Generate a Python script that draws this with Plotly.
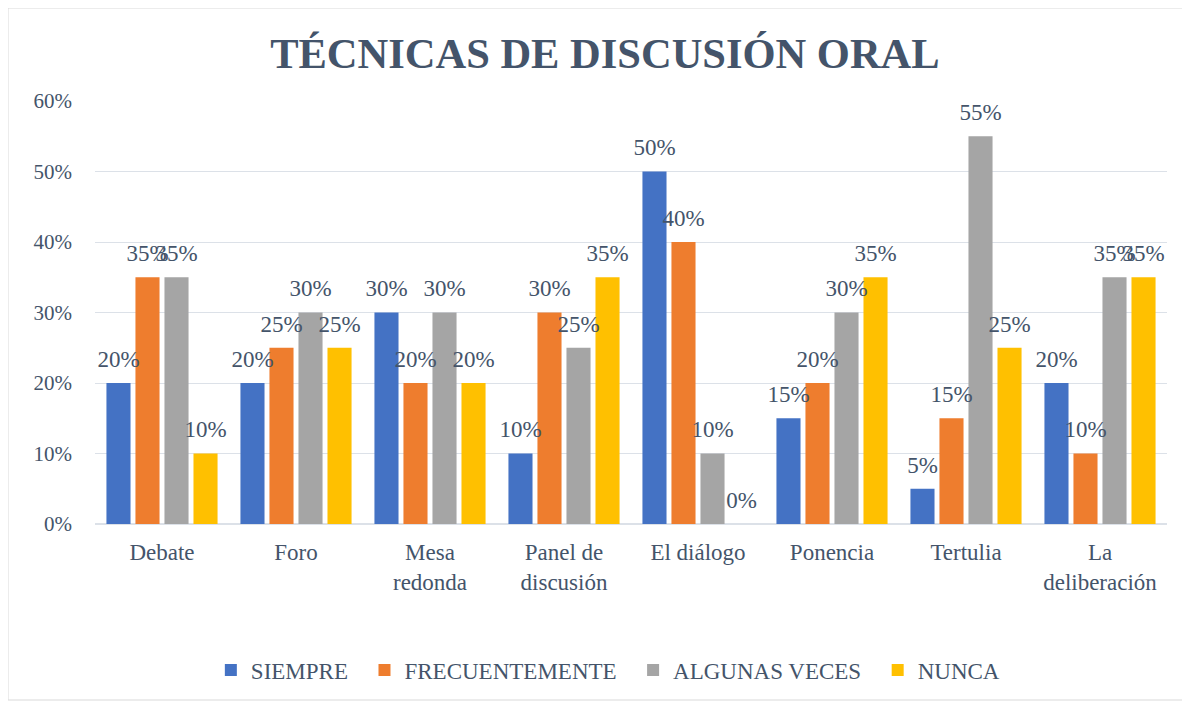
import plotly.graph_objects as go

categories = ["Debate", "Foro", "Mesa<br>redonda", "Panel de<br>discusión", "El diálogo",
              "Ponencia", "Tertulia", "La<br>deliberación"]
siempre = [0.20, 0.20, 0.30, 0.10, 0.50, 0.15, 0.05, 0.20]
frecuentemente = [0.35, 0.25, 0.20, 0.30, 0.40, 0.20, 0.15, 0.10]
algunas_veces = [0.35, 0.30, 0.30, 0.25, 0.10, 0.30, 0.55, 0.35]
nunca = [0.10, 0.25, 0.20, 0.35, 0.00, 0.35, 0.25, 0.35]
series_names = ["SIEMPRE", "FRECUENTEMENTE", "ALGUNAS VECES", "NUNCA"]
colors = ["#4472C4", "#EE7D2E", "#A5A5A5", "#FFC000"]

TXT = "#44546A"
FONT = "Liberation Serif, Times New Roman, serif"
NB = "\u00a0"

fig = go.Figure()
all_vals = [siempre, frecuentemente, algunas_veces, nunca]
for i, (name, vals, col) in enumerate(zip(series_names, all_vals, colors)):
    fig.add_trace(go.Bar(
        x=categories, y=vals, name=name + NB * 2,
        marker=dict(color=col, line=dict(width=0)),
        offsetgroup=str(i), alignmentgroup="a",
    ))
for i, vals in enumerate(all_vals):
    fig.add_trace(go.Scatter(
        x=categories, y=vals, mode="markers+text",
        marker=dict(size=15, opacity=0), showlegend=False, hoverinfo="skip",
        text=[f"{round(v*100)}%" for v in vals],
        textposition="top center", cliponaxis=False,
        offsetgroup=str(i), alignmentgroup="a",
        textfont=dict(family=FONT, size=23, color=TXT),
    ))

W, H = 1182, 695
L, T = 87, 93
PW, PH = 1072, 423
fig.update_layout(
    width=W, height=H,
    margin=dict(l=L, r=W - L - PW, t=T, b=H - T - PH, autoexpand=False),
    paper_bgcolor="white", plot_bgcolor="white",
    barmode="group", bargap=0.134, bargroupgap=0.17,
    scattermode="group", scattergap=0.134,
    font=dict(family=FONT, size=21, color=TXT),
    title=dict(text="<b>TÉCNICAS DE DISCUSIÓN ORAL</b>", x=0.505, xanchor="center",
               y=0.935, yanchor="middle",
               font=dict(family=FONT, size=42.5, color=TXT)),
    legend=dict(orientation="h", x=0.484, xanchor="center", y=-0.345, yanchor="middle",
                font=dict(family=FONT, size=23, color=TXT), itemwidth=30,
                traceorder="normal"),
)
fig.update_yaxes(range=[0, 0.6], dtick=0.1, tickformat=".0%", showgrid=True,
                 gridcolor="#DCE1E8", gridwidth=1, zeroline=True, zerolinecolor="#DCE1E8",
                 showline=False, ticks="", ticklabelstandoff=22,
                 tickfont=dict(family=FONT, size=21, color=TXT))
fig.update_xaxes(showline=False, ticks="", ticklabelstandoff=12,
                 tickfont=dict(family=FONT, size=23, color=TXT))

fig.add_shape(type="rect", xref="paper", yref="paper",
              x0=(0 - L) / PW, x1=(W - 1 - L) / PW,
              y0=(T + PH - (H - 3)) / PH, y1=(T + PH) / PH,
              line=dict(color="#D9D9D9", width=1), fillcolor="rgba(0,0,0,0)", layer="below")

fig.write_html("out.html")
